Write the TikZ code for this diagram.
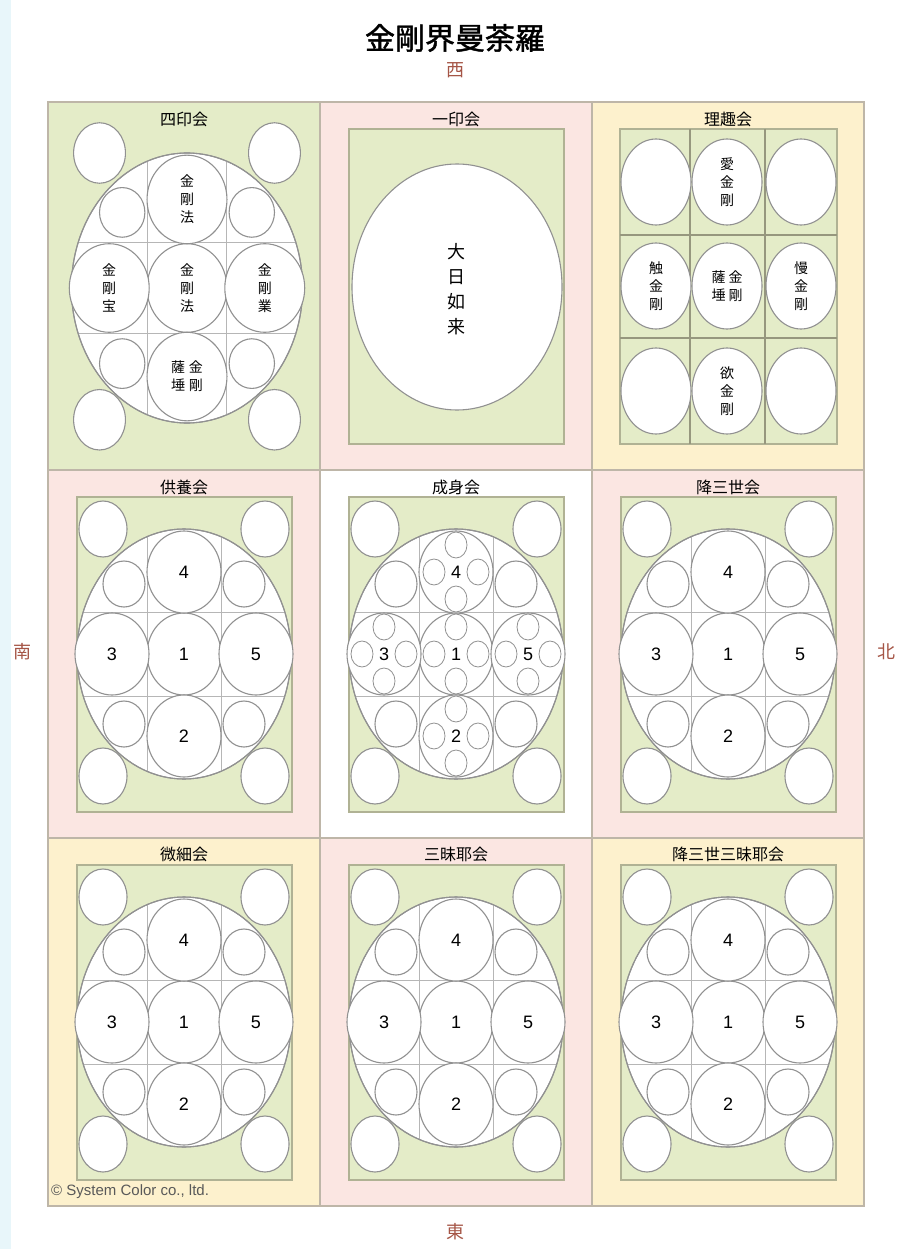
\documentclass[tikz,border=0pt]{standalone}
\usepackage{fontspec}
\setmainfont{Noto Sans CJK JP}
\newfontfamily\titlefont{Noto Sans CJK JP}[FakeBold=1.5]
\newfontfamily\latin{Liberation Sans}
\usetikzlibrary{positioning}

\definecolor{kgreen}{RGB}{228,236,200}
\definecolor{kpink}{RGB}{251,230,226}
\definecolor{kyellow}{RGB}{253,241,205}
\definecolor{framegray}{RGB}{190,182,168}
\definecolor{innergray}{RGB}{176,178,148}
\definecolor{circgray}{RGB}{145,145,145}
\definecolor{gridgray}{RGB}{182,182,182}
\definecolor{dirred}{RGB}{165,85,70}
\definecolor{edgecyan}{RGB}{232,246,250}

\tikzset{
	every node/.style={
		inner sep=1pt
	},
	hall/.style={draw=framegray, line width=1.5pt},
	inner/.style={fill=kgreen, draw=innergray, line width=1.2pt},
	disc/.style={fill=white, draw=circgray, line width=1.1pt},
	minidisc/.style={draw=circgray, line width=0.8pt},
	gridline/.style={draw=gridgray, line width=1pt},
	rigrid/.style={draw=innergray!85!black, line width=1.2pt},
	hallname/.style={font=\fontsize{16}{16}\selectfont},
	num/.style={font=\latin\fontsize{18}{18}\selectfont},
	vtext/.style={align=center, inner sep=0pt, font=\fontsize{14}{18}\selectfont},
	dir/.style={text=dirred, font=\fontsize{18}{18}\selectfont},
}

% disc of one hall: corner circles, big ellipse, grid, circles
\newcommand{\kaidisc}[3]{%
	\begin{scope}[shift={(#1,#2)}, scale=#3]
		\foreach \sx/\sy in {-81/-125,81/-125,-81/122,81/122}
			\path[disc] (\sx,\sy) ellipse [x radius=24, y radius=28];
		\path[disc] (0,0) ellipse [x radius=107, y radius=125];
		\begin{scope}
			\clip (0,0) ellipse [x radius=107, y radius=125];
			\draw[gridline] (-37,-130) -- (-37,130) (37,-130) -- (37,130)
				(-110,-42) -- (110,-42) (-110,42) -- (110,42);
		\end{scope}
		\path[draw=circgray, line width=1.1pt] (0,0) ellipse [x radius=107, y radius=125];
		\foreach \sx/\sy in {-60/-70,60/-70,-60/70,60/70}
			\path[disc] (\sx,\sy) ellipse [x radius=21, y radius=23];
		\foreach \sx/\sy in {0/0,0/-82,0/82,-72/0,72/0}
			\path[disc] (\sx,\sy) ellipse [x radius=37, y radius=41];
	\end{scope}}

\newcommand{\kainums}[3]{%
	\foreach \n/\dx/\dy in {1/0/0,2/0/82,3/-72/0,4/0/-82,5/72/0}
		\node[num] (#1-\n) at (#2+\dx,#3+\dy) {\n};}

\begin{document}
\begin{tikzpicture}[x=1pt, y=-1pt]
	\useasboundingbox (0,0) rectangle (896,1249);
	\fill[white] (0,0) rectangle (896,1249);
	\fill[edgecyan] (0,0) rectangle (11,1249);
	
	% halls
	\foreach \col/\row/\clr in {0/0/kgreen,1/0/kpink,2/0/kyellow,0/1/kpink,1/1/white,2/1/kpink,0/2/kyellow,1/2/kpink,2/2/kyellow}
		\path[hall, fill=\clr] (48+272*\col,102+368*\row) rectangle +(272,368);
	
	\foreach \name/\x/\y/\txt in {shiin/184/119/四印会, ichiin/456/119/一印会, rishu/728/119/理趣会,
		kuyo/184/487/供養会, jojin/456/487/成身会, gozanze/728/487/降三世会,
		misai/184/854/微細会, sanmaya/456/854/三昧耶会, gosanmaya/728/854/降三世三昧耶会}
		\node[hallname] (\name) at (\x,\y) {\txt};
	
	% 四印会
	\kaidisc{187}{288}{1.08}
	\begin{scope}[shift={(187,288)}, scale=1.08]
		\node[vtext] (shiin-w) at (0,-82) {金\\剛\\法};
		\node[vtext] (shiin-c) at (0,0) {金\\剛\\法};
		\node[vtext] (shiin-s) at (-72,0) {金\\剛\\宝};
		\node[vtext] (shiin-n) at (72,0) {金\\剛\\業};
		\node[vtext] (shiin-e) at (0,82) {薩\hspace{4pt}金\\埵\hspace{4pt}剛};
	\end{scope}
	
	% 一印会
	\path[inner] (349,129) rectangle (564,444);
	\path[disc] (457,287) ellipse [x radius=105, y radius=123];
	\node[vtext, font=\fontsize{18}{25}\selectfont] (dainichi) at (456,289) {大\\日\\如\\来};
	
	% 理趣会
	\path[inner] (620,129) rectangle (837,444);
	\draw[rigrid] (690,129) -- (690,444) (765,129) -- (765,444)
		(620,235) -- (837,235) (620,338) -- (837,338);
	\foreach \x in {656,727,801}
		\foreach \y in {182,286,391}
			\path[disc] (\x,\y) ellipse [x radius=35, y radius=43];
	\node[vtext] (rishu-w) at (727,182) {愛\\金\\剛};
	\node[vtext] (rishu-s) at (656,286) {触\\金\\剛};
	\node[vtext] (rishu-c) at (727,286) {薩\hspace{3pt}金\\埵\hspace{3pt}剛};
	\node[vtext] (rishu-n) at (801,286) {慢\\金\\剛};
	\node[vtext] (rishu-e) at (727,391) {欲\\金\\剛};
	
	% the six numbered halls
	\foreach \name/\cx/\cy in {kuyo/184/654, jojin/456/654, gozanze/728/654,
		misai/184/1022, sanmaya/456/1022, gosanmaya/728/1022} {
		\path[inner] (\cx-107,\cy-157) rectangle (\cx+108,\cy+158);
		\kaidisc{\cx}{\cy}{1}
		\kainums{\name}{\cx}{\cy}
	}
	
	% 成身会: four small circles in each circle
	\begin{scope}[shift={(456,654)}]
		\foreach \mx/\my in {0/0,0/-82,0/82,-72/0,72/0}
			\foreach \dx/\dy in {0/-27,0/27,-22/0,22/0}
				\path[minidisc] (\mx+\dx,\my+\dy) ellipse [x radius=11, y radius=13];
	\end{scope}
	
	% title and directions
	\node[font=\titlefont\fontsize{30}{30}\selectfont] (title) at (455,38) {金剛界曼荼羅};
	\node[dir] (west) [below=8pt of title] {西};
	\node[dir] (south) at (22,652) {南};
	\node[dir] (north) at (886,652) {北};
	\node[dir] (east) at (455,1232) {東};
	\node[font=\latin\fontsize{15}{15}\selectfont, text=black!65, anchor=west] (credit) at (50,1192) {© System Color co., ltd.};
	
\end{tikzpicture}
\end{document}
